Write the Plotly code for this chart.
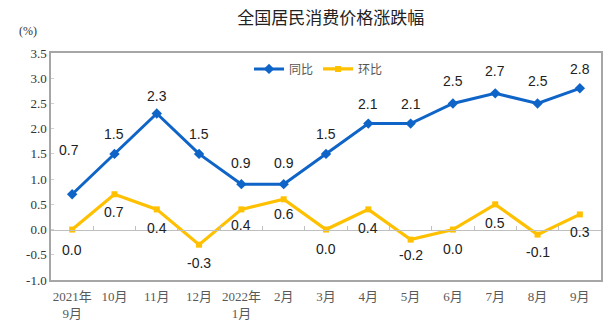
import plotly.graph_objects as go

categories = ["2021年<br>9月", "10月", "11月", "12月", "2022年<br>1月", "2月", "3月",
              "4月", "5月", "6月", "7月", "8月", "9月"]
yoy = [0.7, 1.5, 2.3, 1.5, 0.9, 0.9, 1.5, 2.1, 2.1, 2.5, 2.7, 2.5, 2.8]
mom = [0.0, 0.7, 0.4, -0.3, 0.4, 0.6, 0.0, 0.4, -0.2, 0.0, 0.5, -0.1, 0.3]
yticks = [-1.0, -0.5, 0.0, 0.5, 1.0, 1.5, 2.0, 2.5, 3.0, 3.5]

blue = "#0F64C8"
yellow = "#FFC000"
serif = "Liberation Serif, Noto Sans CJK SC"
sans = "Liberation Sans, Arial, sans-serif"

yoy_shift = [44, 20, 18, 20, 21, 21, 20, 20, 20, 22, 22, 22, 19]
mom_shift = [-20, -18, -19, -18, -16, -15, -19, -19, -15, -19, -19, -17, -18]

fig = go.Figure()
fig.add_trace(go.Scatter(x=categories, y=yoy, name="同比", mode="lines+markers",
                         line=dict(color=blue, width=3),
                         marker=dict(symbol="diamond", size=8, color=blue)))
fig.add_trace(go.Scatter(x=categories, y=mom, name="环比", mode="lines+markers",
                         line=dict(color=yellow, width=3.2),
                         marker=dict(symbol="square", size=6, color=yellow)))
# helper trace for zero-line axis with boundary ticks
fig.add_trace(go.Scatter(x=categories, y=mom, xaxis="x2", mode="markers",
                         marker=dict(opacity=0), showlegend=False, hoverinfo="skip"))

annotations = []
for i, (c, v) in enumerate(zip(categories, yoy)):
    annotations.append(dict(x=c, y=v, text=f"{v:.1f}", showarrow=False,
                            yshift=yoy_shift[i], xshift=-3 if i == 0 else 0,
                            font=dict(family=sans, size=14, color="#222")))
for i, (c, v) in enumerate(zip(categories, mom)):
    annotations.append(dict(x=c, y=v, text=f"{v:.1f}", showarrow=False,
                            yshift=mom_shift[i],
                            font=dict(family=sans, size=14, color="#222")))
annotations.append(dict(xref="x domain", yref="y domain", x=-0.042, y=1.095,
                        xanchor="center", yanchor="middle", text="(%)",
                        showarrow=False, font=dict(family=serif, size=12, color="#333")))

zero_pos = (0 - yticks[0]) / (yticks[-1] - yticks[0])

fig.update_layout(
    width=615, height=334,
    margin=dict(l=51, r=12, t=53, b=54),
    paper_bgcolor="white", plot_bgcolor="white",
    title=dict(text="全国居民消费价格涨跌幅", x=0.538, xref="container", y=0.945, yref="container",
               xanchor="center", yanchor="middle",
               font=dict(family="Noto Sans CJK SC", size=17, color="#222")),
    showlegend=True,
    legend=dict(orientation="h", x=0.36, y=0.93, xanchor="left", yanchor="middle",
                bgcolor="rgba(0,0,0,0)", font=dict(family="Noto Sans CJK SC", size=12, color="#555"),
                itemwidth=30),
    xaxis=dict(type="category", range=[-0.5, len(categories) - 0.5],
               showline=True, mirror=True, linecolor="#A6A6A6", linewidth=1.5,
               ticks="", showgrid=False, zeroline=False, ticklabelstandoff=4,
               tickfont=dict(family=serif, size=13, color="#595959")),
    xaxis2=dict(type="category", overlaying="x", anchor="free", position=zero_pos,
                range=[-0.5, len(categories) - 0.5], side="bottom",
                showline=True, linecolor="#BFBFBF", linewidth=1,
                ticks="inside", ticklen=4, tickcolor="#BFBFBF", tickson="boundaries",
                showticklabels=False, showgrid=False, zeroline=False),
    yaxis=dict(range=[yticks[0], yticks[-1]], tickvals=yticks,
               ticktext=[f"{t:.1f}" for t in yticks],
               showline=True, mirror=True, linecolor="#A6A6A6", linewidth=1.5,
               ticks="inside", ticklen=3, tickcolor="#D0D0D0",
               showgrid=False, zeroline=False,
               tickfont=dict(family=serif, size=13, color="#333")),
    annotations=annotations,
)

fig.write_html("out.html")
